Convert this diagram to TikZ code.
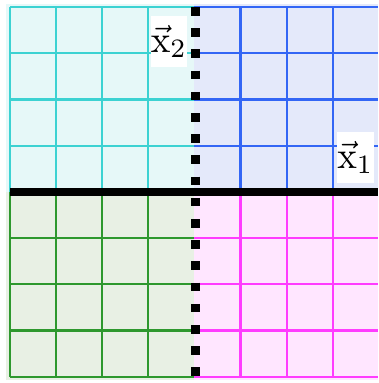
\documentclass[tikz,border=0pt]{standalone}
\usepackage{amsmath}
\usepackage{graphicx}
\definecolor{cyanfill}{HTML}{E6F8F8}
\definecolor{bluefill}{HTML}{E4E9FA}
\definecolor{greenfill}{HTML}{E8F0E4}
\definecolor{magfill}{HTML}{FFE6FF}
\definecolor{cyanline}{HTML}{3CD2D2}
\definecolor{blueline}{HTML}{3366F5}
\definecolor{greenline}{HTML}{2E982E}
\definecolor{magline}{HTML}{FF3CFF}
\tikzset{
  gridline/.style={line width=2.2pt},
  axisline/.style={line width=8.5pt, black},
  labelbox/.style={fill=white, inner sep=0pt, minimum width=32pt, minimum height=51pt}
}
\begin{document}
\begin{tikzpicture}[x=1pt,y=-1pt]
\useasboundingbox (0,0) rectangle (378,383);
% fills
\fill[cyanfill] (6,3.5) rectangle (194.4,191.8);
\fill[bluefill] (194.4,3.5) rectangle (378,191.8);
\fill[greenfill] (6,191.8) rectangle (194.4,380);
\fill[magfill] (194.4,191.8) rectangle (378,380);
% cyan grid
\foreach \i in {0,...,3} \draw[gridline, cyanline] ({10+46.1*\i},7) -- ({10+46.1*\i},191.8);
\foreach \j in {0,...,3} \draw[gridline, cyanline] (10,{7+46.2*\j}) -- (194.4,{7+46.2*\j});
% blue grid
\foreach \i in {1,...,3} \draw[gridline, blueline] ({194.4+46.1*\i},7) -- ({194.4+46.1*\i},191.8);
\foreach \j in {0,...,3} \draw[gridline, blueline] (194.4,{7+46.2*\j}) -- (378,{7+46.2*\j});
% green grid
\foreach \i in {0,...,3} \draw[gridline, greenline] ({10+46.1*\i},191.8) -- ({10+46.1*\i},376.6);
\foreach \j in {1,...,4} \draw[gridline, greenline] (10,{191.8+46.2*\j}) -- (194.4,{191.8+46.2*\j});
% magenta grid
\foreach \i in {1,...,3} \draw[gridline, magline] ({194.4+46.1*\i},191.8) -- ({194.4+46.1*\i},376.6);
\foreach \j in {1,...,4} \draw[gridline, magline] (194.4,{191.8+46.2*\j}) -- (378,{191.8+46.2*\j});
% axes
\coordinate (hl) at (10,192);
\coordinate (hr) at (378,192);
\coordinate (vt) at (195,7);
\coordinate (vb) at (195,383);
\draw[axisline] (hl) -- (hr);
\draw[axisline, line width=9pt, dash pattern=on 8.5pt off 12.7pt] (vt) -- (vb);
% labels
\node[labelbox] (l2) at (169,41.5) {\scalebox{3.7}[3.8]{$\vec{\mathrm{x}}_2$}};
\node[labelbox] (l1) at (355.5,157.5) {\scalebox{3.7}[3.8]{$\vec{\mathrm{x}}_1$}};
\end{tikzpicture}
\end{document}
